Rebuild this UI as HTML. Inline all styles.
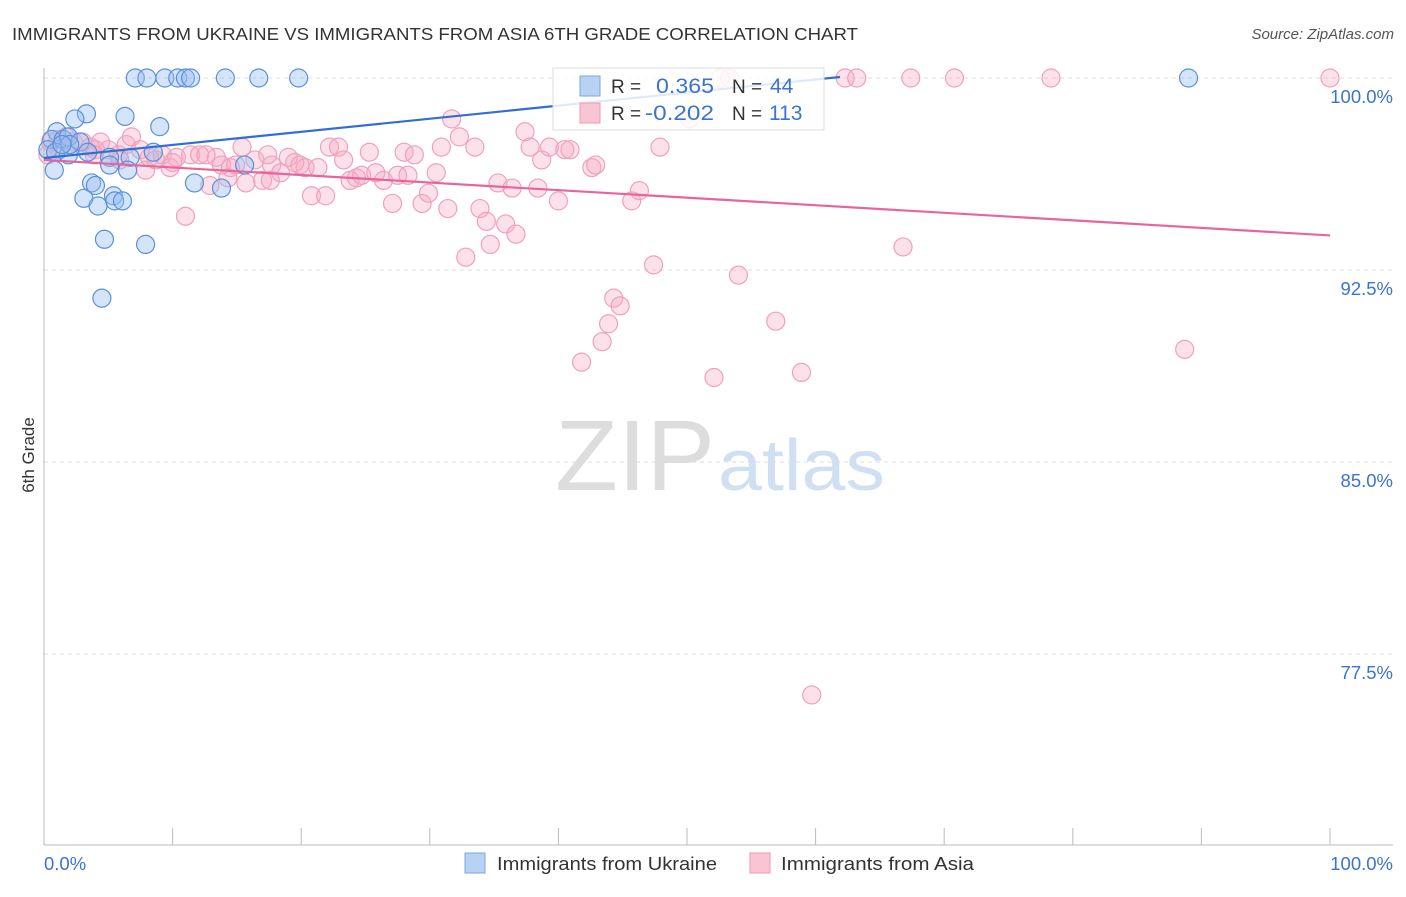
<!DOCTYPE html>
<html><head><meta charset="utf-8"><style>
body{margin:0;background:#fff;font-family:"Liberation Sans",sans-serif;}
svg text{font-family:"Liberation Sans",sans-serif;}
</style></head><body>
<svg id="c" width="1406" height="892">
<text x="12" y="40" font-size="17.5" fill="#333" textLength="846" lengthAdjust="spacingAndGlyphs">IMMIGRANTS FROM UKRAINE VS IMMIGRANTS FROM ASIA 6TH GRADE CORRELATION CHART</text>
<text x="1394" y="39" font-size="15" fill="#555" font-style="italic" text-anchor="end">Source: ZipAtlas.com</text>
<text x="555" y="490" font-size="100" fill="#ddd" textLength="160" lengthAdjust="spacingAndGlyphs" font-family="Liberation Serif">ZIP</text>
<text x="718" y="490" font-size="72" fill="#cfe0f3" textLength="167" lengthAdjust="spacingAndGlyphs">atlas</text>
<text transform="translate(34,455) rotate(-90)" font-size="17" fill="#333" text-anchor="middle">6th Grade</text>
<g id="grid"></g><g id="marks"></g>
<g>
<rect x="553" y="68" width="271" height="62" fill="#fff" fill-opacity="0.85" stroke="#ddd"/>
<rect x="580" y="76" width="20" height="20" fill="#b8d2f4" stroke="#7aa6e6"/>
<rect x="580" y="103" width="20" height="20" fill="#f9c4d4" stroke="#f09ab6"/>
<text x="611" y="93" font-size="19" fill="#333">R = </text><text x="656" y="93" font-size="21" fill="#3b73d0" textLength="58" lengthAdjust="spacingAndGlyphs">0.365</text>
<text x="732" y="93" font-size="19" fill="#333">N = </text><text x="770" y="93" font-size="21" fill="#3b73d0">44</text>
<text x="611" y="120" font-size="19" fill="#333">R = </text><text x="645" y="120" font-size="21" fill="#3b73d0" textLength="69" lengthAdjust="spacingAndGlyphs">-0.202</text>
<text x="732" y="120" font-size="19" fill="#333">N = </text><text x="769" y="120" font-size="21" fill="#3b73d0">113</text>
</g>
<g>
<rect x="465" y="853" width="20" height="20" fill="#b8d2f4" stroke="#7aa6e6"/>
<text x="497" y="870" font-size="18.5" fill="#333" textLength="220" lengthAdjust="spacingAndGlyphs">Immigrants from Ukraine</text>
<rect x="750" y="853" width="20" height="20" fill="#f9c4d4" stroke="#f09ab6"/>
<text x="781" y="870" font-size="18.5" fill="#333" textLength="193" lengthAdjust="spacingAndGlyphs">Immigrants from Asia</text>
</g>
</svg>
<script>
const yTicks=[100,92.5,85,77.5];
const yTickLabels=["100.0%","92.5%","85.0%","77.5%"];
const xEndLabels=["0.0%","100.0%"];
const ukrX=[7.1,8.0,9.4,10.4,11.0,11.4,14.1,16.7,19.8,89.0,3.3,6.3,2.4,9.0,1.0,0.6,1.5,1.9,2.8,0.3,0.9,1.9,3.4,5.1,6.7,8.5,0.8,5.1,6.5,15.6,3.7,4.0,11.7,13.8,3.1,5.4,4.2,5.5,6.1,4.7,7.9,4.5,2.0,1.4];
const ukrY=[100,100,100,100,100,100,100,100,100,100,98.6,98.5,98.4,98.1,97.9,97.6,97.6,97.7,97.5,97.2,97.1,97.0,97.1,96.9,96.9,97.1,96.4,96.6,96.4,96.6,95.9,95.8,95.9,95.7,95.3,95.4,95.0,95.2,95.2,93.7,93.5,91.4,97.4,97.4];
const asiaX=[0.5,1.1,1.7,2.3,3.0,3.6,4.4,5.0,5.8,6.4,6.8,7.5,7.9,8.7,9.2,9.8,10.3,11.0,11.4,12.1,12.9,13.4,13.8,14.5,14.9,15.4,15.7,16.4,17.0,17.6,17.7,18.4,19.0,19.5,19.9,20.3,20.8,21.3,21.9,22.2,22.9,23.3,23.8,24.3,24.7,25.3,25.8,26.4,27.1,27.5,28.0,28.3,28.8,29.4,29.9,30.5,30.9,31.4,31.7,32.3,32.8,33.5,33.9,34.4,34.7,35.3,35.9,36.4,36.7,37.4,37.8,38.4,38.7,39.3,40.0,40.5,40.9,41.8,42.6,42.9,43.4,43.9,44.3,44.8,45.7,46.3,47.4,47.9,50.2,52.1,52.6,53.3,54.0,56.9,58.9,59.7,62.3,63.2,66.8,67.4,70.8,78.3,88.7,100,0.3,1.2,4.0,5.9,8.2,10.0,12.6,14.3,17.4,3.9];
const asiaY=[97.5,97.6,97.7,97.5,97.5,97.3,97.5,97.2,97.0,97.4,97.7,97.2,96.4,96.8,97.0,96.5,96.9,94.6,97.0,97.0,95.8,96.9,96.6,96.5,96.6,97.3,95.9,96.8,96.0,96.0,96.6,96.3,96.9,96.7,96.6,96.5,95.4,96.5,95.4,97.3,97.3,96.8,96.0,96.1,96.2,97.1,96.3,96.0,95.1,96.2,97.1,96.2,97.0,95.1,95.5,96.3,97.3,94.9,98.4,97.7,93.0,97.3,94.9,94.4,93.5,95.9,94.3,95.7,93.9,97.9,97.3,95.7,96.8,97.3,95.2,97.2,97.2,88.9,96.5,96.6,89.7,90.4,91.4,91.1,95.2,95.6,92.7,97.3,98.4,88.3,100,100,92.3,90.5,88.5,75.9,100,100,93.4,100,100,100,89.4,100,97.0,97.2,97.2,96.8,96.9,96.7,97.0,96.1,97.0,97.0];
const ukrLine=[[0,96.875],[61.9,100.04]];
const asiaLine=[[0,96.8],[100,93.85]];
const X=v=>44+v*12.86, Y=v=>78+(100-v)*25.6;
const NS="http://www.w3.org/2000/svg";
function mk(t,a,p){const e=document.createElementNS(NS,t);for(const k in a)e.setAttribute(k,a[k]);p.appendChild(e);return e;}
const g=document.getElementById('grid'), m=document.getElementById('marks');
yTicks.forEach((v,i)=>{
 const l=mk('line',{x1:44,x2:1393,y1:Y(v),y2:Y(v),stroke:'#ddd','stroke-dasharray':'4,4'},g);
 
 
 const t=mk('text',{x:1393,y:Y(v)+25,'font-size':18.5,fill:'#3b73d0','text-anchor':'end'},g);t.textContent=yTickLabels[i];
 
 
});
const ax=mk('line',{x1:44,x2:1393,y1:845,y2:845,stroke:'#bbb'},g);


const ay=mk('line',{x1:44,x2:44,y1:68,y2:845,stroke:'#bbb'},g);


for(let k=0;k<=10;k++){const tk=mk('line',{x1:X(k*10),x2:X(k*10),y1:828,y2:845,stroke:'#bbb'},g);
 
 }
const xl0=mk('text',{x:44,y:870,'font-size':18.5,fill:'#3b73d0'},g);xl0.textContent=xEndLabels[0];


const xl1=mk('text',{x:1393,y:870,'font-size':18.5,fill:'#3b73d0','text-anchor':'end'},g);xl1.textContent=xEndLabels[1];


asiaX.forEach((v,i)=>{const c=mk('circle',{cx:X(v),cy:Y(asiaY[i]),r:9,fill:'rgba(246,170,196,0.35)',stroke:'#f0a0bc','stroke-width':1.2},m);
 
 });
ukrX.forEach((v,i)=>{const c=mk('circle',{cx:X(v),cy:Y(ukrY[i]),r:9,fill:'rgba(150,190,240,0.4)',stroke:'#5a8fdc','stroke-width':1.2},m);
 
 });
const la=mk('line',{x1:X(asiaLine[0][0]),y1:Y(asiaLine[0][1]),x2:X(asiaLine[1][0]),y2:Y(asiaLine[1][1]),stroke:'#e8649a','stroke-width':2.2},m);


const lu=mk('line',{x1:X(ukrLine[0][0]),y1:Y(ukrLine[0][1]),x2:X(ukrLine[1][0]),y2:Y(ukrLine[1][1]),stroke:'#2f6fd3','stroke-width':2.2},m);


</script>
</body></html>
